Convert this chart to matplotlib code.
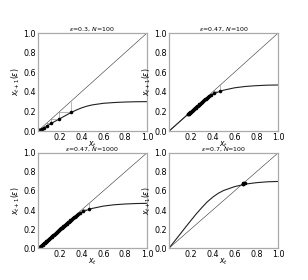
import matplotlib
matplotlib.use("Agg")
import matplotlib.pyplot as plt

# map curves (x grid shared by all panels)
xgrid = [0, 0.05, 0.1, 0.15, 0.2, 0.25, 0.3, 0.35, 0.4, 0.45, 0.5, 0.6, 0.7, 0.8, 0.9, 1.0]
curve_03 = [0, 0.032, 0.063, 0.095, 0.125, 0.156, 0.186, 0.213, 0.236, 0.254, 0.267, 0.283, 0.291, 0.296, 0.299, 0.3]
curve_047 = [0, 0.049, 0.099, 0.148, 0.195, 0.244, 0.292, 0.337, 0.373, 0.399, 0.417, 0.441, 0.455, 0.463, 0.468, 0.47]
curve_07 = [0, 0.072, 0.145, 0.218, 0.29, 0.36, 0.425, 0.485, 0.535, 0.575, 0.605, 0.645, 0.672, 0.687, 0.696, 0.7]

# trajectories x_t
traj_03 = [0.30, 0.19, 0.12, 0.08, 0.052, 0.034, 0.022, 0.014, 0.009, 0.006,
           0.004, 0.0025, 0.0016, 0.001, 0.0006, 0.0004, 0.0002, 0.0]
traj_047 = [0.47, 0.41, 0.385, 0.37, 0.358, 0.348, 0.339, 0.330, 0.322, 0.314,
            0.306, 0.299, 0.292, 0.285, 0.278, 0.271, 0.264, 0.257, 0.251, 0.245,
            0.239, 0.233, 0.227, 0.222, 0.216, 0.211, 0.206, 0.201, 0.196, 0.191,
            0.186, 0.181, 0.177, 0.173, 0.169]
traj_047_long = traj_047 + [0.162, 0.155, 0.148, 0.141, 0.134, 0.127, 0.12, 0.113,
                            0.106, 0.099, 0.092, 0.085, 0.078, 0.071, 0.064, 0.057,
                            0.05, 0.043, 0.036, 0.03, 0.024, 0.018, 0.013, 0.009,
                            0.005, 0.002, 0.0]
traj_07 = [0.70, 0.686, 0.681, 0.679, 0.678, 0.678]

panels = [
    (r"$\epsilon$=0.3, $N$=100", curve_03, traj_03),
    (r"$\epsilon$=0.47, $N$=100", curve_047, traj_047),
    (r"$\epsilon$=0.47, $N$=1000", curve_047, traj_047_long),
    (r"$\epsilon$=0.7, $N$=100", curve_07, traj_07),
]
pos = [[0.123, 0.532, 0.354, 0.35], [0.549, 0.532, 0.354, 0.35],
       [0.123, 0.114, 0.354, 0.340], [0.549, 0.114, 0.354, 0.340]]

fig = plt.figure(figsize=(3.08, 2.8), dpi=100)
for p, (title, curve, traj) in zip(pos, panels):
    ax = fig.add_axes(p)
    ax.plot([0, 1], [0, 1], color="#333333", lw=0.4)
    ax.plot(xgrid, curve, color="#222222", lw=0.8)
    # cobweb
    for i in range(len(traj) - 1):
        ax.plot([traj[i], traj[i]], [traj[i], traj[i + 1]], color="#999999", lw=0.5)
        ax.plot([traj[i], traj[i + 1]], [traj[i + 1], traj[i + 1]], color="#999999", lw=0.5)
    ax.plot(traj[:-1], traj[1:], "o", color="k", ms=2.6, mew=0)
    ax.set_xlim(0, 1)
    ax.set_ylim(0, 1)
    ax.set_xticks([0.2, 0.4, 0.6, 0.8, 1.0])
    ax.set_yticks([0.0, 0.2, 0.4, 0.6, 0.8, 1.0])
    ax.tick_params(length=0, labelsize=5.8, pad=1.5)
    for s in ax.spines.values():
        s.set_color("#aaaaaa")
        s.set_linewidth(0.9)
    ax.set_title(title, fontsize=4.5, pad=1)
    ax.set_xlabel("$x_t$", fontsize=5.5, labelpad=-2)
    ax.set_ylabel(r"$x_{t+1}(\epsilon)$", fontsize=5.5, labelpad=1)

fig.savefig("out.png", dpi=100)
